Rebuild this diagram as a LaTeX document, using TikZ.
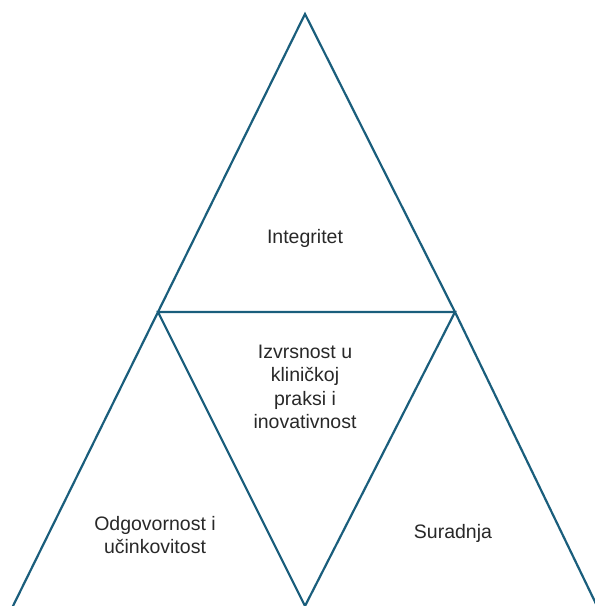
\documentclass[tikz,border=0pt]{standalone}
\usepackage{fontspec}
\setmainfont{Liberation Sans}
\usetikzlibrary{positioning}
\definecolor{lineblue}{RGB}{26,94,124}
\definecolor{textgray}{RGB}{40,40,40}

\begin{document}
\begin{tikzpicture}[x=1pt, y=-1pt,
	edge/.style={draw=lineblue, line width=2.2pt, line join=miter},
	label/.style={text=textgray, font=\fontsize{19.5}{23.5}\selectfont, align=center}]

		%Frame
		\useasboundingbox (0,0) rectangle (595,606);
		\clip (0,0) rectangle (595,606);

		%Corner points
		\coordinate (top) at (305,14);
		\coordinate (ml) at (158,312);
		\coordinate (mr) at (455,312);
		\coordinate (bl) at (12,608);
		\coordinate (br) at (598,608);
		\coordinate (bm) at (305,606);

		%Outer triangle
		\draw[edge] (bl) -- (ml) -- (top) -- (mr) -- (br);

		%Inner triangle
		\draw[edge] (bm) -- (ml) -- (mr) -- cycle;

		%Labels
		\node[label] (integ) at (305,238) {Integritet};
		\node[label] (izvrs) at (305,387) {Izvrsnost u\\kliničkoj\\praksi i\\inovativnost};
		\node[label] (odgov) at (155,535) {Odgovornost i\\učinkovitost};
		\node[label] (surad) at (453,533) {Suradnja};

\end{tikzpicture}
\end{document}
